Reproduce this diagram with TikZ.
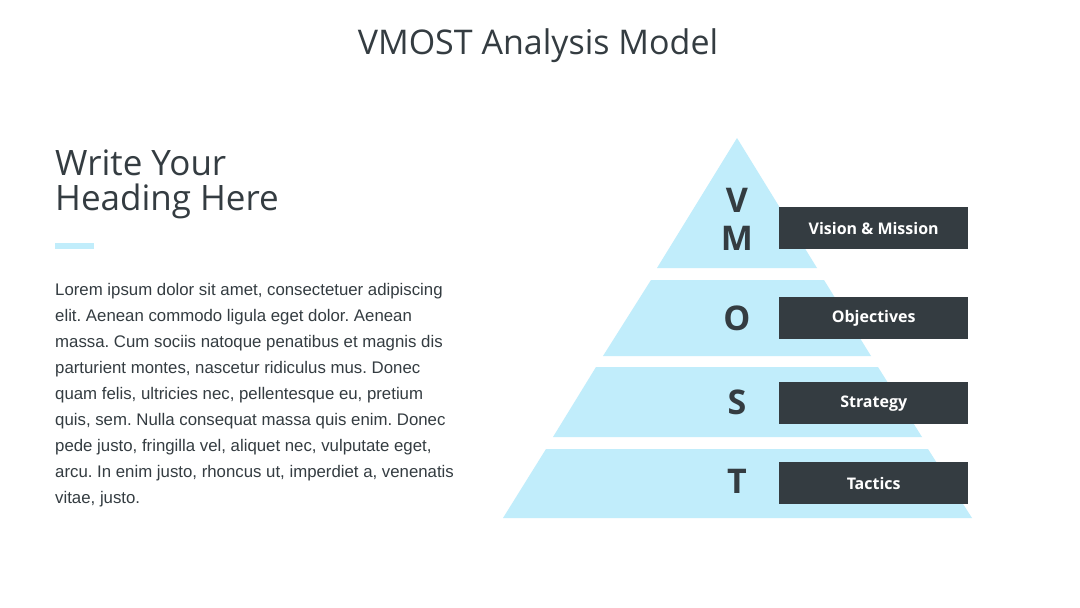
\documentclass[tikz,border=0pt]{standalone}
\usepackage{fontspec}
\setmainfont{Open Sans}
\newfontfamily\bodyfont{Liberation Sans}
\frenchspacing
\definecolor{ink}{RGB}{52,60,65}
\definecolor{sky}{RGB}{193,237,251}
\tikzset{
  band/.style={fill=sky, draw=none},
  letter/.style={font=\fontsize{34}{34}\selectfont\bfseries, text=ink, anchor=base, inner sep=0pt},
  labelbox/.style={fill=ink, text=white, font=\fontsize{16}{16}\selectfont\bfseries,
    minimum width=189pt, minimum height=42pt, inner sep=0pt, anchor=north west},
}
\begin{document}
\begin{tikzpicture}[x=1pt,y=-1pt]
\useasboundingbox[fill=white] (0,0) rectangle (1080,608);
% title
\node[anchor=base, text=ink, font=\fontsize{34}{34}\selectfont, inner sep=0pt] (title) at (538,54) {VMOST Analysis Model};
% heading (base anchor = last line)
\node[anchor=base west, text=ink, font=\fontsize{35}{35}\selectfont, inner sep=0pt, align=left] (heading) at (55,210) {Write Your\\Heading Here};
\fill[sky] (55,243) rectangle (94,249);
% body (base anchor = last line)
\node[anchor=base west, text=ink, font=\bodyfont\fontsize{16.8}{26}\selectfont, inner sep=0pt, align=left] (body) at (55,503)
{Lorem ipsum dolor sit amet, consectetuer adipiscing\\
elit. Aenean commodo ligula eget dolor. Aenean\\
massa. Cum sociis natoque penatibus et magnis dis\\
parturient montes, nascetur ridiculus mus. Donec\\
quam felis, ultricies nec, pellentesque eu, pretium\\
quis, sem. Nulla consequat massa quis enim. Donec\\
pede justo, fringilla vel, aliquet nec, vulputate eget,\\
arcu. In enim justo, rhoncus ut, imperdiet a, venenatis\\
vitae, justo.};
% pyramid bands
\fill[band] (737,138) -- (817,268) -- (657,268) -- cycle;
\fill[band] (651,280) -- (824,280) -- (871,356) -- (603,356) -- cycle;
\fill[band] (596,367) -- (878,367) -- (922,437) -- (553,437) -- cycle;
\fill[band] (546,449) -- (928,449) -- (972,518) -- (503,518) -- cycle;
% letters
\node[letter] (lv) at (737,212) {V};
\node[letter] (lm) at (737,250) {M};
\node[letter] (lo) at (737,330) {O};
\node[letter] (ls) at (737,414) {S};
\node[letter] (lt) at (737,493) {T};
% label boxes
\node[labelbox] (bv) at (779,207) {Vision \& Mission};
\node[labelbox] (bo) at (779,297) {Objectives};
\node[labelbox] (bs) at (779,382) {Strategy};
\node[labelbox] (bt) at (779,462) {Tactics};
\end{tikzpicture}
\end{document}
